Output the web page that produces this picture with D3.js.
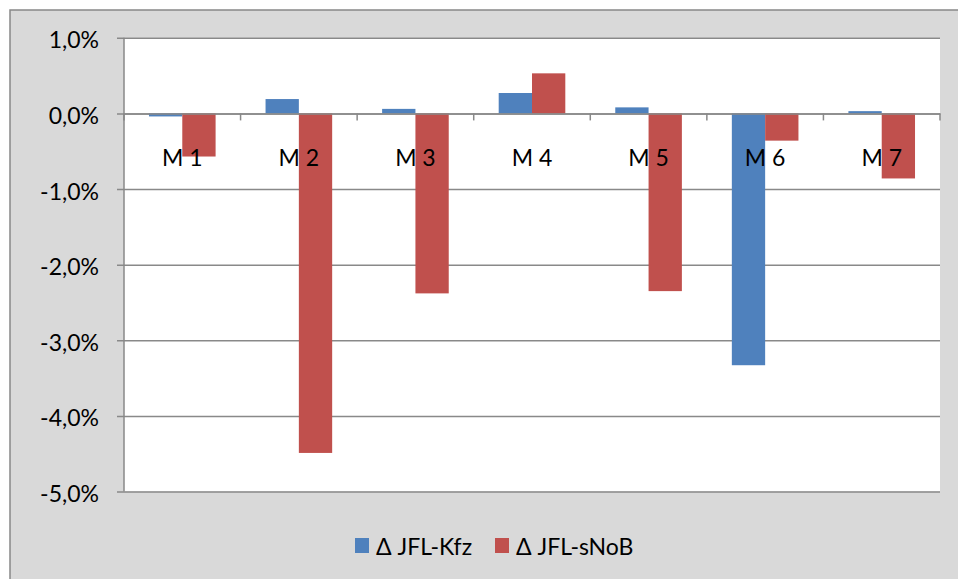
<!DOCTYPE html>
<html><head><meta charset="utf-8">
<script src="https://cdn.jsdelivr.net/npm/d3@7/dist/d3.min.js"></script>
<style>body{margin:0;background:#fff}text{font-family:Lato,"Open Sans",sans-serif;fill:#000}</style>
</head><body><svg id="c" width="958" height="579"></svg>
<script>
const categories = ["M 1","M 2","M 3","M 4","M 5","M 6","M 7"];
const seriesNames = ["Δ JFL-Kfz","Δ JFL-sNoB"];
const kfz  = [-0.0004, 0.0019, 0.0006, 0.0027, 0.0008, -0.0333, 0.0003];
const snob = [-0.0057, -0.0449, -0.0238, 0.0053, -0.0235, -0.0036, -0.0086];
const yTicks = [0.01, 0, -0.01, -0.02, -0.03, -0.04, -0.05];
const colors = ["#4f81bd","#c0504d"];

const svg = d3.select("#c");
const W = 958, H = 579;
svg.append("rect").attr("x",10).attr("y",10).attr("width",W).attr("height",H)
  .attr("fill","#d9d9d9").attr("stroke","#888").attr("stroke-width",1.5);

const L = 124, R = 940, T = 37.8, B = 491.5;
svg.append("rect").attr("x",L).attr("y",T).attr("width",R-L).attr("height",B-T).attr("fill","#fff");

const y = d3.scaleLinear().domain([-0.05,0.01]).range([B,T]);
const x = d3.scaleBand().domain(categories).range([L,R]).paddingInner(0).paddingOuter(0);
const xs = d3.scaleBand().domain([0,1]).range([0,x.bandwidth()]).paddingOuter(0.75).paddingInner(0);

const fmt = v => (v*100).toFixed(1).replace(".",",") + "%";
const FS = 23;

const yAxis = d3.axisLeft(y).tickValues(yTicks).tickSize(-(R-L)).tickSizeOuter(0).tickFormat(fmt).tickPadding(25);
const gy = svg.append("g").attr("transform",`translate(${L},0)`).call(yAxis);
gy.select(".domain").remove();
gy.selectAll(".tick line").attr("stroke","#898989").attr("stroke-width",1.5).attr("x1",-7);
gy.selectAll(".tick text").attr("font-size",FS).attr("dy",10).style("font-family","Lato");
svg.append("line").attr("x1",L).attr("x2",L).attr("y1",T).attr("y2",B).attr("stroke","#898989").attr("stroke-width",1.5);

const data = [kfz, snob];
data.forEach((vals,si)=>{
  svg.append("g").selectAll("rect").data(vals).join("rect")
    .attr("x",(d,i)=>x(categories[i])+xs(si))
    .attr("width",xs.bandwidth())
    .attr("y",d=>y(Math.max(0,d)))
    .attr("height",d=>Math.abs(y(d)-y(0)))
    .attr("fill",colors[si]);
});

const xAxis = d3.axisBottom(x).tickSize(0).tickFormat(d=>d);
const gx = svg.append("g").attr("transform",`translate(0,${y(0)})`).call(xAxis);
gx.select(".domain").attr("stroke","#898989").attr("stroke-width",1.5);
gx.selectAll(".tick text").attr("font-size",FS).attr("y",53).attr("dy",0).style("font-family","Lato");
const bounds = categories.map(c=>x(c)).concat([R]);
svg.append("g").selectAll("line").data(bounds).join("line")
  .attr("x1",d=>d).attr("x2",d=>d).attr("y1",y(0)).attr("y2",y(0)+7)
  .attr("stroke","#898989").attr("stroke-width",1.5);

const lg = svg.append("g");
const lx = [355, 495];
seriesNames.forEach((n,i)=>{
  lg.append("rect").attr("x",lx[i]).attr("y",538).attr("width",14).attr("height",15).attr("fill",colors[i]);
  lg.append("text").attr("x",lx[i]+21).attr("y",555).attr("font-size",FS).text(n);
});
</script></body></html>
